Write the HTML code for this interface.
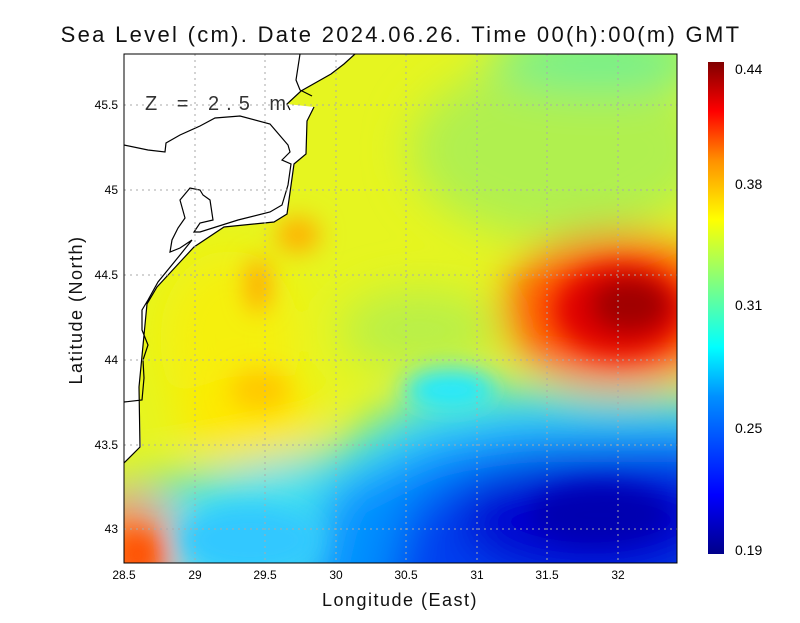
<!DOCTYPE html>
<html><head><style>
body{margin:0;background:#fff;width:800px;height:618px;overflow:hidden;font-family:"Liberation Sans",sans-serif;}
</style></head><body>
<svg width="800" height="618" xmlns="http://www.w3.org/2000/svg" font-family="Liberation Sans, sans-serif">
<defs>
<clipPath id="pc"><rect x="124" y="54" width="553" height="509"/></clipPath>
<filter id="b1" x="-50%" y="-50%" width="200%" height="200%"><feGaussianBlur stdDeviation="22"/></filter>
<filter id="b2" x="-50%" y="-50%" width="200%" height="200%"><feGaussianBlur stdDeviation="12"/></filter>
<linearGradient id="cb" x1="0" y1="1" x2="0" y2="0">
<stop offset="0" stop-color="#00008a"/><stop offset="0.12" stop-color="#0000ff"/>
<stop offset="0.32" stop-color="#0090ff"/><stop offset="0.42" stop-color="#00ffff"/>
<stop offset="0.55" stop-color="#80ff80"/><stop offset="0.68" stop-color="#ffff00"/>
<stop offset="0.8" stop-color="#ff9000"/><stop offset="0.9" stop-color="#ff0000"/>
<stop offset="1" stop-color="#800000"/></linearGradient>
</defs>
<text x="401" y="42" text-anchor="middle" font-size="22" letter-spacing="2.3" fill="#111">Sea Level (cm). Date 2024.06.26. Time 00(h):00(m) GMT</text>
<g clip-path="url(#pc)">
<rect x="124" y="54" width="553" height="509" fill="#e6f520"/>
<g filter="url(#b1)">
<ellipse cx="560" cy="150" rx="150" ry="90" fill="#b0f050"/>
<ellipse cx="600" cy="60" rx="110" ry="30" fill="#70f090"/>
<ellipse cx="420" cy="330" rx="80" ry="40" fill="#b8f048"/>
<ellipse cx="230" cy="340" rx="70" ry="90" fill="#f5f010"/>
<ellipse cx="250" cy="420" rx="70" ry="45" fill="#ffe800"/>
<path d="M90,490 L200,475 L330,450 L420,395 L520,385 L600,395 L720,395 L720,620 L90,620 Z" fill="#40e0f0"/>
<path d="M300,620 L330,490 L430,440 L520,425 L720,425 L720,620 Z" fill="#0090ff"/>
<path d="M380,620 L410,505 L470,470 L560,455 L720,445 L720,620 Z" fill="#0040f0"/>
<ellipse cx="590" cy="520" rx="130" ry="60" fill="#0000d0"/>
<ellipse cx="130" cy="550" rx="45" ry="55" fill="#ff8000"/>
<ellipse cx="615" cy="310" rx="110" ry="75" fill="#ff5000"/>
</g>
<g filter="url(#b2)">
<ellipse cx="620" cy="310" rx="65" ry="45" fill="#e00000"/>
<ellipse cx="630" cy="305" rx="40" ry="28" fill="#a00000"/>
<ellipse cx="138" cy="555" rx="22" ry="25" fill="#ff5000"/>
<ellipse cx="450" cy="390" rx="45" ry="20" fill="#20e8ff"/>
<ellipse cx="600" cy="515" rx="70" ry="30" fill="#0000b0"/>
<ellipse cx="298" cy="235" rx="22" ry="18" fill="#ffb000"/>
<ellipse cx="258" cy="285" rx="12" ry="28" fill="#ffa800"/>
<ellipse cx="260" cy="390" rx="30" ry="20" fill="#ffc800"/>
<ellipse cx="250" cy="540" rx="70" ry="35" fill="#30c8ff"/>
</g>
<path d="M124,54 L355,54 L344,64 L331,74 L301,91 L287,104 L314,107 L307,121 L306,154 L294,164 L287,214 L274,222 L224,227 L194,247 L181,261 L157,287 L147,304 L139,387 L141,447 L124,463 Z" fill="#fff"/>
<path d="M355,54 L344,64 L331,74 L301,91 L287,104 L290,110 M300,54 L296,80 L300,90 L312,96 M124,145 L148,150 L165,152 L166,143 L180,135 L200,126 L215,118 L240,116 L270,124 L288,145 L290,152 L282,160 L291,164 L288,185 L282,205 L270,212 L238,220 L200,232 L194,232 L200,223 L213,220 L210,200 L203,195 L200,190 L190,188 L180,200 L185,218 L178,228 L172,240 L170,252 L180,248 L192,240 L180,255 L158,282 L148,300 L142,310 L142,330 L148,345 L143,360 L144,378 L142,400 L124,402 M124,463 L140,447 L139,387 L147,304 L157,287 L181,261 L194,247 L224,227 L274,222 L287,214 L294,164 L306,154 L307,121 L314,107" fill="none" stroke="#000" stroke-width="1.2"/>
<g stroke="#aaa" stroke-width="1" stroke-dasharray="2,4">
<line x1="195" y1="54" x2="195" y2="563"/><line x1="265" y1="54" x2="265" y2="563"/><line x1="336" y1="54" x2="336" y2="563"/><line x1="406" y1="54" x2="406" y2="563"/><line x1="477" y1="54" x2="477" y2="563"/><line x1="547" y1="54" x2="547" y2="563"/><line x1="618" y1="54" x2="618" y2="563"/>
<line x1="124" y1="105" x2="677" y2="105"/><line x1="124" y1="190" x2="677" y2="190"/><line x1="124" y1="275" x2="677" y2="275"/><line x1="124" y1="360" x2="677" y2="360"/><line x1="124" y1="445" x2="677" y2="445"/><line x1="124" y1="529" x2="677" y2="529"/>
</g>
</g>
<rect x="124" y="54" width="553" height="509" fill="none" stroke="#000" stroke-width="1"/>
<text x="145" y="110" font-size="20" fill="#333" letter-spacing="7">Z = 2.5 m</text>
<g font-size="12" fill="#000" text-anchor="middle">
<text x="124" y="579">28.5</text><text x="195" y="579">29</text><text x="265" y="579">29.5</text><text x="336" y="579">30</text><text x="406" y="579">30.5</text><text x="477" y="579">31</text><text x="547" y="579">31.5</text><text x="618" y="579">32</text>
</g>
<g font-size="12" fill="#000" text-anchor="end">
<text x="118" y="109">45.5</text><text x="118" y="194">45</text><text x="118" y="279">44.5</text><text x="118" y="364">44</text><text x="118" y="449">43.5</text><text x="118" y="533">43</text>
</g>
<text x="400" y="606" text-anchor="middle" font-size="18" letter-spacing="1.5" fill="#111">Longitude (East)</text>
<text transform="translate(82,310) rotate(-90)" text-anchor="middle" font-size="18" letter-spacing="1.5" fill="#111">Latitude (North)</text>
<rect x="708" y="62" width="16" height="492" fill="url(#cb)"/>
<g font-size="14" fill="#000">
<text x="735" y="74">0.44</text><text x="735" y="189">0.38</text><text x="735" y="310">0.31</text><text x="735" y="433">0.25</text><text x="735" y="555">0.19</text>
</g>
</svg>
</body></html>
